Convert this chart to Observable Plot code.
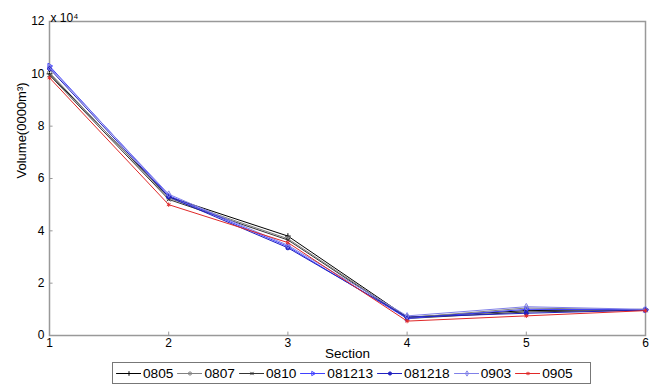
<!DOCTYPE html>
<html>
<head>
<meta charset="utf-8">
<script src="https://cdn.jsdelivr.net/npm/d3@7"></script>
<script src="https://cdn.jsdelivr.net/npm/@observablehq/plot@0.6"></script>
<style>
  body { margin: 0; background: #fff; font-family: Arial, "Liberation Sans", sans-serif; }
  #wrap { position: relative; width: 649px; height: 385px; }
  #legend { position: absolute; left: 112px; top: 362px; width: 474px; height: 20px;
    border: 1px solid #777; background: #fff; display: flex; align-items: center;
    font-size: 13.7px; color: #000; padding-left: 3px; box-sizing: content-box; }
  #legend .item { display: flex; align-items: center; margin-right: 4px; }
  #legend svg { display: block; margin-right: 2px; }
</style>
</head>
<body>
<div id="wrap"></div>
<script>
const sections = [1, 2, 3, 4, 5, 6];
const seriesNames = ["0805", "0807", "0810", "081213", "081218", "0903", "0905"];
const v0805   = [100000, 53000, 38000, 7000, 9500, 10000];
const v0807   = [100500, 52500, 37000, 6800, 10500, 9800];
const v0810   = [99500, 52000, 36500, 6500, 9000, 9700];
const v081213 = [103000, 53500, 34000, 6500, 10000, 9800];
const v081218 = [102000, 53000, 33500, 7000, 8500, 9700];
const v0903   = [102500, 54000, 34500, 7500, 11000, 10000];
const v0905   = [98500, 50000, 35500, 5500, 7500, 9500];
const yTicks = [0, 20000, 40000, 60000, 80000, 100000, 120000];
const xTicks = [1, 2, 3, 4, 5, 6];

const values = [v0805, v0807, v0810, v081213, v081218, v0903, v0905];
const colors = ["#000000", "#808080", "#333333", "#4040ff", "#2020c0", "#8080e8", "#e02828"];
const symbols = ["plus", "circle", "times", "triangle", "circle", "diamond", "asterisk"];
const rotations = [0, 0, 0, 90, 0, 0, 0];
const filled = [false, false, false, false, true, false, false];

const data = [];
seriesNames.forEach((s, i) => sections.forEach((x, j) => data.push({series: s, x, y: values[i][j]})));

const marks = [
  Plot.frame({stroke: "#999", strokeWidth: 1.5}),
  Plot.axisY({ticks: yTicks, tickFormat: d => d / 10000, tickSize: 0, tickPadding: 5, fontSize: 12, label: null}),
  Plot.axisX({ticks: xTicks, tickFormat: d => d, tickSize: 0, tickPadding: 3, fontSize: 12, label: null}),
  Plot.ruleY(yTicks.slice(1, -1), {y: d => d, x1: 1, x2: 1.03, stroke: "#999"}),
  Plot.ruleX(xTicks.slice(1, -1), {x: d => d, y1: 0, y2: 1300, stroke: "#999"}),
];
seriesNames.forEach((s, i) => {
  const d = data.filter(r => r.series === s);
  marks.push(Plot.line(d, {x: "x", y: "y", stroke: colors[i], strokeWidth: 1}));
  marks.push(Plot.dot(d, {x: "x", y: "y", stroke: colors[i], symbol: symbols[i], r: 2, rotate: rotations[i],
    fill: filled[i] ? colors[i] : "none", strokeWidth: 1}));
});
marks.push(Plot.text(["Volume(0000m³)"], {frameAnchor: "left", rotate: -90, dx: -28, fontSize: 13, text: d => d}));
marks.push(Plot.text(["Section"], {frameAnchor: "bottom", dy: 22, fontSize: 13.5, text: d => d}));
marks.push(Plot.text(["x 10⁴"], {frameAnchor: "top-left", dy: -8, dx: 1, textAnchor: "start", fontSize: 12, text: d => d}));

const chart = Plot.plot({
  width: 649, height: 385,
  marginLeft: 49, marginRight: 4, marginTop: 21, marginBottom: 50,
  style: {fontFamily: "Arial, 'Liberation Sans', sans-serif", color: "#000", background: "#fff", overflow: "visible"},
  x: {domain: [1, 6]},
  y: {domain: [0, 120000]},
  marks
});
const wrap = document.getElementById("wrap");
wrap.appendChild(chart);

// Legend
const legend = document.createElement("div");
legend.id = "legend";
seriesNames.forEach((s, i) => {
  const item = document.createElement("div");
  item.className = "item";
  const sw = Plot.plot({
    width: 25, height: 18, margin: 0, axis: null,
    x: {domain: [0, 1]}, y: {domain: [0, 1]},
    marks: [
      Plot.line([[0, 0.5], [1, 0.5]], {stroke: colors[i], strokeWidth: 1}),
      Plot.dot([[0.5, 0.5]], {stroke: colors[i], symbol: symbols[i], r: 1.6, rotate: rotations[i], strokeWidth: 1,
        fill: filled[i] ? colors[i] : "none"})
    ]
  });
  item.appendChild(sw);
  const t = document.createElement("span");
  t.textContent = s;
  item.appendChild(t);
  legend.appendChild(item);
});
wrap.appendChild(legend);
</script>
</body>
</html>
